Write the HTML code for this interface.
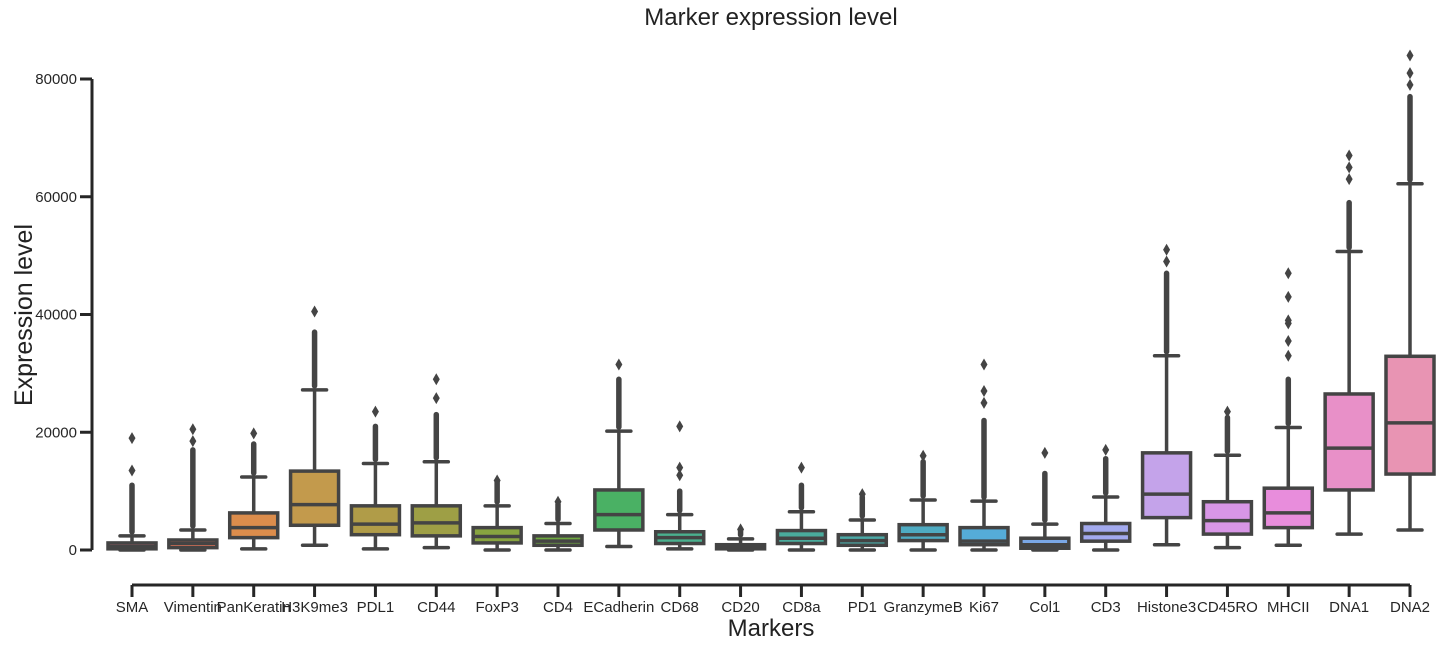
<!DOCTYPE html>
<html><head><meta charset="utf-8"><style>
body{margin:0;background:#fff;}
svg{display:block;font-family:"Liberation Sans",Arial,sans-serif;}
</style></head><body>
<svg id="chart" width="1447" height="648">
<text x="771" y="25" font-size="24" text-anchor="middle" fill="#222">Marker expression level</text>
<text transform="translate(32,315) rotate(-90)" font-size="25" text-anchor="middle" fill="#222">Expression level</text>
<text x="771" y="636" font-size="24" text-anchor="middle" fill="#222">Markers</text>
<g id="axes"></g>
<g id="marks"></g>
</svg>
<script>
const categories=["SMA","Vimentin","PanKeratin","H3K9me3","PDL1","CD44","FoxP3","CD4","ECadherin","CD68","CD20","CD8a","PD1","GranzymeB","Ki67","Col1","CD3","Histone3","CD45RO","MHCII","DNA1","DNA2"];
const q1=[200,400,2100,4200,2600,2400,1200,800,3400,1100,200,1100,800,1600,900,300,1500,5500,2700,3800,10200,12900];
const medians=[600,1100,3800,7700,4400,4600,2300,1500,6000,2100,500,2000,1600,2600,1500,900,2800,9500,5000,6300,17300,21600];
const q3=[1200,1700,6300,13400,7500,7500,3800,2400,10200,3100,900,3300,2600,4300,3800,2000,4500,16500,8200,10500,26500,32900];
const whiskerLow=[0,0,200,800,200,400,0,0,600,200,0,0,0,0,0,0,0,900,400,800,2700,3400];
const whiskerHigh=[2400,3400,12400,27200,14700,15000,7500,4500,20200,6000,1900,6500,5100,8500,8300,4400,9000,33000,16100,20800,50700,62200];
const denseTop=[11000,17000,18000,37000,21000,23000,11500,7800,29000,10000,3300,11000,9000,15000,22000,13000,15500,47000,22500,29000,59000,77000];
const sparseOutliers=[[13500,19000],[18500,20500],[19800],[40500],[23500],[25800,29000],[11800],[8200],[31500],[12700,14000,21000],[3500],[14000],[9500],[16000],[25000,27000,31500],[16500],[17000],[49000,51000],[23500],[33000,35500,38500,39000,43000,47000],[63000,65000,67000],[79000,81000,84000]];
const colors=["#f77189","#f47a5a","#dc8d4c","#c39a4c","#b09c48","#9e9f45","#88a440","#6fa840","#4ab164","#4ab08e","#49ae9a","#4aab9c","#4aa9a6","#4eabc2","#55acd8","#7aa7e6","#a3aaee","#c4a3ea","#d896e6","#e88ddc","#e890c8","#e894b3"];
const yTicks=[0,20000,40000,60000,80000];
const Y0=550,Y1=79,VMAX=80000,X0=132,XS=(1410-132)/21,BW=48;
const ns="http://www.w3.org/2000/svg";
function yS(v){return Y0-(v/VMAX)*(Y0-Y1);}
function xS(i){return X0+i*XS;}
function mk(tag,attrs,parent){const e=document.createElementNS(ns,tag);for(const k in attrs)e.setAttribute(k,attrs[k]);parent.appendChild(e);return e;}
const axes=document.getElementById('axes'),marks=document.getElementById('marks');
const ya=mk('line',{x1:92,x2:92,y1:yS(80000),y2:yS(0),stroke:'#262626','stroke-width':3},axes);


yTicks.forEach(t=>{
 const l=mk('line',{x1:80,x2:92,y1:yS(t),y2:yS(t),stroke:'#262626','stroke-width':3},axes);
 
 
 const tx=mk('text',{x:77,y:yS(t)+5,'font-size':15,'text-anchor':'end',fill:'#262626'},axes);
 tx.textContent=t;
 
 
});
const xa=mk('line',{x1:xS(0),x2:xS(categories.length-1),y1:585,y2:585,stroke:'#262626','stroke-width':3},axes);


const G='#444';
categories.forEach((c,i)=>{
 const x=xS(i);
 const t=mk('line',{x1:x,x2:x,y1:585,y2:597,stroke:'#262626','stroke-width':3},axes);
 
 
 const tx=mk('text',{x:x,y:612,'font-size':15,'text-anchor':'middle',fill:'#262626'},axes);
 tx.textContent=c;
 
 
 const g=mk('g',{},marks);
 
 
 mk('line',{x1:x,x2:x,y1:yS(whiskerHigh[i]),y2:yS(q3[i]),stroke:G,'stroke-width':3.5},g);
 mk('line',{x1:x,x2:x,y1:yS(q1[i]),y2:yS(whiskerLow[i]),stroke:G,'stroke-width':3.5},g);
 mk('line',{x1:x-12,x2:x+12,y1:yS(whiskerHigh[i]),y2:yS(whiskerHigh[i]),stroke:G,'stroke-width':3.5,'stroke-linecap':'round'},g);
 mk('line',{x1:x-12,x2:x+12,y1:yS(whiskerLow[i]),y2:yS(whiskerLow[i]),stroke:G,'stroke-width':3.5,'stroke-linecap':'round'},g);
 const top=yS(q3[i]),bot=yS(q1[i]);
 mk('rect',{x:x-BW/2,y:top,width:BW,height:Math.max(bot-top,1),fill:colors[i],stroke:G,'stroke-width':3.5},g);
 mk('line',{x1:x-BW/2,x2:x+BW/2,y1:yS(medians[i]),y2:yS(medians[i]),stroke:G,'stroke-width':3.5},g);
 if(denseTop[i]>whiskerHigh[i]){
  mk('line',{x1:x,x2:x,y1:yS(whiskerHigh[i])-4,y2:yS(denseTop[i]),stroke:G,'stroke-width':5.5,'stroke-linecap':'round'},g);
 }
 sparseOutliers[i].forEach(v=>{
  const y=yS(v);
  const d=mk('path',{d:`M${x},${y-6}L${x+3.5},${y}L${x},${y+6}L${x-3.5},${y}Z`,fill:G},g);
  
  
 });
});
</script>
</body></html>
